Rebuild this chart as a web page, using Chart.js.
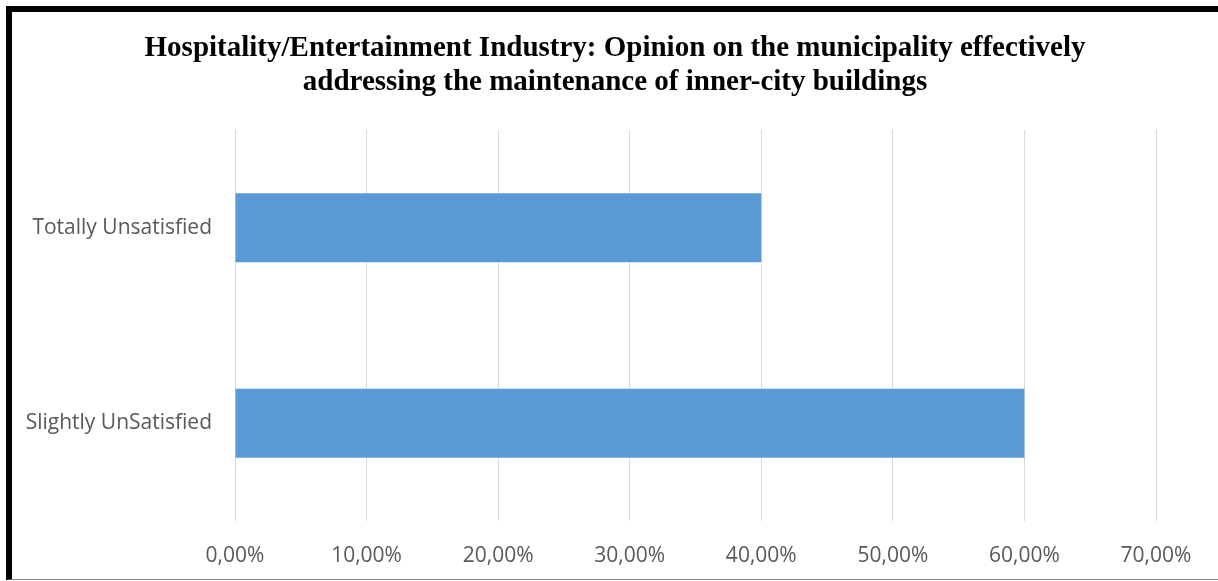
<!DOCTYPE html>
<html>
<head>
<meta charset="utf-8">
<script src="https://cdn.jsdelivr.net/npm/chart.js@4"></script>
<style>
  html, body { margin: 0; padding: 0; background: #fff; }
  #frame {
    position: absolute; left: 6px; top: 6px;
    width: 1206px; height: 567px;
    border-top: 6px solid #000; border-left: 6px solid #000;
    border-bottom: 1px solid #7f7f7f;
  }
  canvas { display: block; }
</style>
</head>
<body>
<div id="frame"><canvas id="c" width="1206" height="567"></canvas></div>
<script>
const titleLines = [
  "Hospitality/Entertainment Industry: Opinion on the municipality effectively",
  "addressing the maintenance of inner-city buildings"
];
const categories = ["Totally Unsatisfied", "Slightly UnSatisfied"];
const values = [40, 60];
const xTickValues = [0, 10, 20, 30, 40, 50, 60, 70];
const xTickLabels = ["0,00%", "10,00%", "20,00%", "30,00%", "40,00%", "50,00%", "60,00%", "70,00%"];

new Chart(document.getElementById('c'), {
  type: 'bar',
  data: {
    labels: categories,
    datasets: [{
      data: values,
      backgroundColor: '#5B9BD5',
      borderWidth: 0,
      categoryPercentage: 1,
      barPercentage: 0.353
    }]
  },
  options: {
    indexAxis: 'y',
    responsive: false,
    animation: false,
    devicePixelRatio: 1,
    layout: { padding: 0 },
    plugins: {
      legend: { display: false },
      tooltip: { enabled: false },
      title: {
        display: true,
        text: titleLines,
        color: '#000',
        font: { family: '"Liberation Serif", "Times New Roman", serif', size: 29, weight: 'bold', lineHeight: 34 / 29 },
        padding: { top: 20, bottom: 30 }
      }
    },
    scales: {
      x: {
        type: 'linear',
        min: 0, max: 70,
        afterBuildTicks: (s) => { s.ticks = xTickValues.map(v => ({ value: v })); },
        afterFit: (s) => { s.height = 58; },
        border: { display: false },
        grid: { color: '#d9d9d9', lineWidth: 1, drawTicks: false },
        ticks: {
          padding: 22,
          color: '#595959',
          font: { family: '"Open Sans", sans-serif', size: 21 },
          callback: (v) => { const i = xTickValues.indexOf(v); return i >= 0 ? xTickLabels[i] : ''; }
        }
      },
      y: {
        afterFit: (s) => { s.width = 223; },
        border: { display: false },
        grid: { display: false, drawTicks: false },
        ticks: {
          padding: 23,
          color: '#595959',
          font: { family: '"Open Sans", sans-serif', size: 21 }
        }
      },
      yRight: {
        type: 'category',
        position: 'right',
        afterFit: (s) => { s.width = 62; },
        border: { display: false },
        grid: { display: false, drawTicks: false },
        ticks: { display: false }
      }
    }
  }
});
</script>
</body>
</html>
